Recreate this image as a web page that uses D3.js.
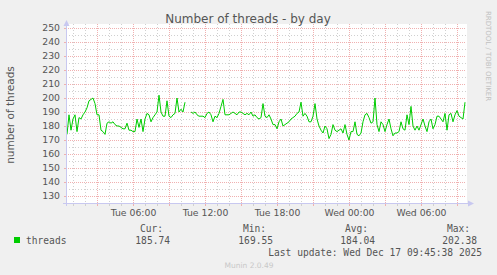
<!DOCTYPE html>
<html>
<head>
<meta charset="utf-8">
<script src="https://cdn.jsdelivr.net/npm/d3@7"></script>
<style>
  html, body { margin: 0; padding: 0; background: #f0f0f0; }
  svg { display: block; }
</style>
</head>
<body>
<div id="chart"></div>
<script>
// munin "threads" plugin, day view: one sample every 10 minutes
const startTime = Date.UTC(2025, 11, 16, 0, 25, 0);
const endTime = Date.UTC(2025, 11, 17, 9, 45, 0);
const threads = [
  174, 188, 177, 185, 188, 176, 186, 185, 188, 190,
  193, 198, 199, 200, 196, 188, 188, 177, 176, 174,
  182, 183, 182, 183, 181, 180, 180, 179, 178, 178,
  182, 177, 177, 176, 176, 185, 179, 185, 176, 185,
  189, 188, 183, 186, 188, 190, 202, 190, 187, 187,
  198, 187, 186, 188, 189, 200, 190, 192, 190, 197,
  null, null, 190, 189, 190, 188, 187, 187, 187, 186,
  189, 190, 188, 183, 187, 186, 189, 194, 199, 188,
  188, 188, 189, 190, 189, 188, 190, 190, 189, 188,
  189, 188, 190, 187, 188, 186, 185, 186, 196, 187,
  186, 188, 185, 181, 181, 178, 183, 185, 180, 181,
  182, 183, 185, 186, 187, 189, 190, 197, 187, 189,
  187, 183, 183, 187, 196, 185, 180, 177, 175, 180,
  178, 171, 174, 181, 177, 176, 177, 178, 175, 181,
  174, 170, 176, 176, 183, 174, 173, 175, 183, 188,
  189, 186, 182, 183, 200, 181, 176, 183, 181, 176,
  181, 185, 178, 173, 175, 175, 176, 183, 178, 177,
  188, 181, 194, 180, 177, 180, 177, 181, 185, 180,
  176, 183, 185, 178, 181, 187, 187, 185, 183, 189,
  177, 188, 189, 183, 188, 191, 187, 186, 185, 197
];
const yTicks = [130, 140, 150, 160, 170, 180, 190, 200, 210, 220, 230, 240, 250];
const legendHeads = ["Cur:", "Min:", "Avg:", "Max:"];
const legendValues = ["185.74", "169.55", "184.04", "202.38"];
const seriesName = "threads";
const lastUpdate = "Last update: Wed Dec 17 09:45:38 2025";

const W = 497, H = 275;
const sans = "'DejaVu Sans', sans-serif";
const mono = "'DejaVu Sans Mono', monospace";
const green = "#00cc00";
const axisCol = "#c8c8f0";
const majorCol = "#f0b0b0";
const minorCol = "#d0d0d0";

const svg = d3.select("#chart").append("svg")
  .attr("width", W).attr("height", H);

const x = d3.scaleUtc().domain([startTime, endTime]).range([66, 466]);
const y = d3.scaleLinear().domain([125, 250]).range([203, 28]);

// plot background
svg.append("rect")
  .attr("x", x.range()[0]).attr("y", 24)
  .attr("width", x.range()[1] - x.range()[0] + 1).attr("height", y(125) - 24)
  .attr("fill", "#ffffff");

// horizontal grid: minor every 5, major every 10
const grid = svg.append("g");
d3.range(130, 255, 5).forEach(v => {
  const major = v % 10 === 0;
  grid.append("line")
    .attr("x1", x.range()[0]).attr("x2", x.range()[1])
    .attr("y1", y(v) + 0.5).attr("y2", y(v) + 0.5)
    .attr("stroke", major ? majorCol : minorCol)
    .attr("stroke-dasharray", major ? "1,1" : "1,2");
  if (major) grid.append("line")
    .attr("x1", x.range()[0] - 2).attr("x2", x.range()[0])
    .attr("y1", y(v) + 0.5).attr("y2", y(v) + 0.5)
    .attr("stroke", majorCol);
});
// vertical grid: every hour, red every 3 hours
x.ticks(d3.utcHour.every(1)).forEach(t => {
  const major = t.getUTCHours() % 3 === 0;
  const px = Math.round(x(t)) + 0.5;
  grid.append("line")
    .attr("x1", px).attr("x2", px)
    .attr("y1", 24).attr("y2", y(125))
    .attr("stroke", major ? majorCol : minorCol)
    .attr("stroke-dasharray", major ? "1,1" : "1,2");
  grid.append("line")
    .attr("x1", px).attr("x2", px)
    .attr("y1", y(125)).attr("y2", y(125) + 3)
    .attr("stroke", major ? majorCol : minorCol);
});

// data line
const pts = threads.map((v, i) => ({ t: new Date(startTime + (5 + 10 * i) * 60000), v: v }));
svg.append("path")
  .datum(pts)
  .attr("fill", "none")
  .attr("stroke", green)
  .attr("stroke-width", 1)
  .attr("d", d3.line()
    .defined(d => d.v != null)
    .x(d => x(d.t))
    .y(d => y(d.v)));

// axes (labels only, lines drawn above)
const yAxis = svg.append("g")
  .attr("transform", "translate(" + x.range()[0] + ",0)")
  .call(d3.axisLeft(y).tickValues(yTicks).tickSize(0).tickPadding(6));
const xAxis = svg.append("g")
  .attr("transform", "translate(0," + y(125) + ")")
  .call(d3.axisBottom(x).ticks(d3.utcHour.every(6))
    .tickFormat(d3.utcFormat("%a %H:%M")).tickSize(0).tickPadding(6));
[yAxis, xAxis].forEach(a => {
  a.select(".domain").remove();
  a.selectAll("line").remove();
  a.selectAll("text")
    .attr("fill", "#555").attr("font-family", sans).attr("font-size", "9.3px");
});
xAxis.selectAll("text").attr("dy", "0.71em");

// axis lines with arrow heads
svg.append("line")
  .attr("x1", x.range()[0] + 0.5).attr("x2", x.range()[0] + 0.5)
  .attr("y1", y(125) + 3).attr("y2", 24)
  .attr("stroke", axisCol);
svg.append("line")
  .attr("x1", x.range()[0] - 3).attr("x2", x.range()[1] + 3)
  .attr("y1", y(125) + 0.5).attr("y2", y(125) + 0.5)
  .attr("stroke", axisCol);
svg.append("path")
  .attr("d", `M${x.range()[0] - 2.5},26 L${x.range()[0] + 0.5},20 L${x.range()[0] + 3.5},26 Z`)
  .attr("fill", axisCol);
svg.append("path")
  .attr("d", `M${x.range()[1] + 2},${y(125) - 2.5} L${x.range()[1] + 8},${y(125) + 0.5} L${x.range()[1] + 2},${y(125) + 3.5} Z`)
  .attr("fill", axisCol);

// title and labels
svg.append("text")
  .attr("x", 248).attr("y", 23)
  .attr("text-anchor", "middle")
  .attr("font-family", sans).attr("font-size", "12px").attr("fill", "#555")
  .text("Number of threads - by day");
svg.append("text")
  .attr("transform", "translate(14,115) rotate(-90)")
  .attr("text-anchor", "middle")
  .attr("font-family", sans).attr("font-size", "10.5px").attr("fill", "#555")
  .text("number of threads");
svg.append("text")
  .attr("transform", "translate(486,56) rotate(90)")
  .attr("text-anchor", "middle")
  .attr("font-family", sans).attr("font-size", "7px").attr("fill", "#c0c0c0")
  .text("RRDTOOL / TOBI OETIKER");

// legend
svg.append("rect")
  .attr("x", 14).attr("y", 237).attr("width", 6).attr("height", 6)
  .attr("fill", green);
svg.append("text")
  .attr("x", 26).attr("y", 244)
  .attr("font-family", mono).attr("font-size", "9.6px").attr("fill", "#555")
  .text(seriesName);
const colRight = [163, 266, 368, 470];
legendHeads.forEach((h, i) => {
  svg.append("text")
    .attr("x", colRight[i]).attr("y", 232)
    .attr("text-anchor", "end")
    .attr("font-family", mono).attr("font-size", "9.6px").attr("fill", "#555")
    .text(h);
  svg.append("text")
    .attr("x", colRight[i] + 7).attr("y", 244)
    .attr("text-anchor", "end")
    .attr("font-family", mono).attr("font-size", "9.6px").attr("fill", "#555")
    .text(legendValues[i]);
});
svg.append("text")
  .attr("x", 482).attr("y", 256)
  .attr("text-anchor", "end")
  .attr("font-family", mono).attr("font-size", "9.6px").attr("fill", "#555")
  .text(lastUpdate);
svg.append("text")
  .attr("x", 249).attr("y", 268)
  .attr("text-anchor", "middle")
  .attr("font-family", sans).attr("font-size", "7.5px").attr("fill", "#c8c8c8")
  .text("Munin 2.0.49");
</script>
</body>
</html>
